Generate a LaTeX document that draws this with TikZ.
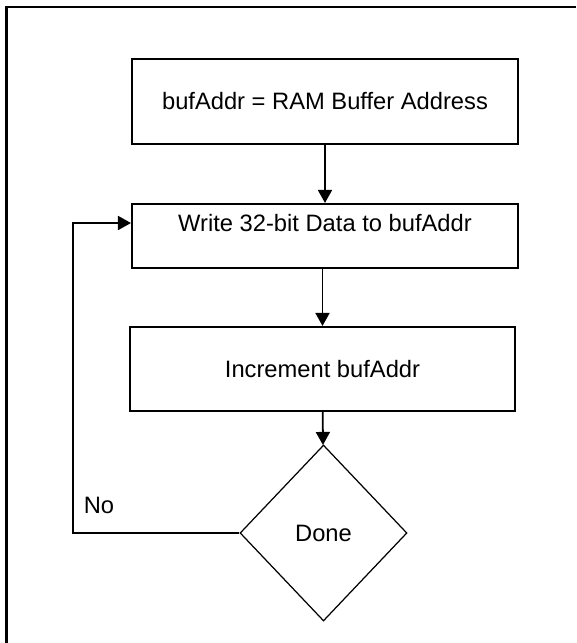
\documentclass[tikz,border=0pt]{standalone}
\usepackage{fontspec}
\setmainfont{Liberation Sans}
\usetikzlibrary{shapes.geometric,arrows.meta}

\begin{document}
\begin{tikzpicture}[x=0.02cm,y=-0.02cm,
	every node/.style={font=\fontsize{13.5}{16}\selectfont},
	box/.style={draw=black,line width=1.2pt,minimum width=7.72cm,inner sep=0pt},
	decision/.style={diamond,draw=black,line width=0.7pt,minimum width=3.34cm,minimum height=3.52cm,aspect=0.95,inner sep=0pt},
	flow/.style={line width=1pt,-{Triangle[length=0.26cm,width=0.28cm]}}]

	\useasboundingbox (0,0) rectangle (576,643);
	\draw[line width=1.5pt] (576,7) -- (6.5,7) -- (6.5,643);

	\node[box,minimum height=1.7cm] (addr) at (325,101.5) {bufAddr = RAM Buffer Address};
	\node[box,minimum height=1.28cm] (write) at (325,236) {};
	\node (writetxt) at (325,223) {Write 32-bit Data to bufAddr};
	\node[box,minimum width=7.7cm,minimum height=1.68cm] (inc) at (322.5,369) {Increment bufAddr};
	\node[decision] (done) at (323.5,533) {Done};
	\node (no) at (99,505) {No};
	\coordinate (loop) at (73,531);

	\draw[flow] (addr) -- (write);
	\draw[flow] (write.south -| inc.north) -- (inc.north);
	\draw[flow] (inc) -- (done);
	\draw[flow] (done.west) -- (done.west -| loop) |- (write.west |- writetxt);
\end{tikzpicture}
\end{document}
